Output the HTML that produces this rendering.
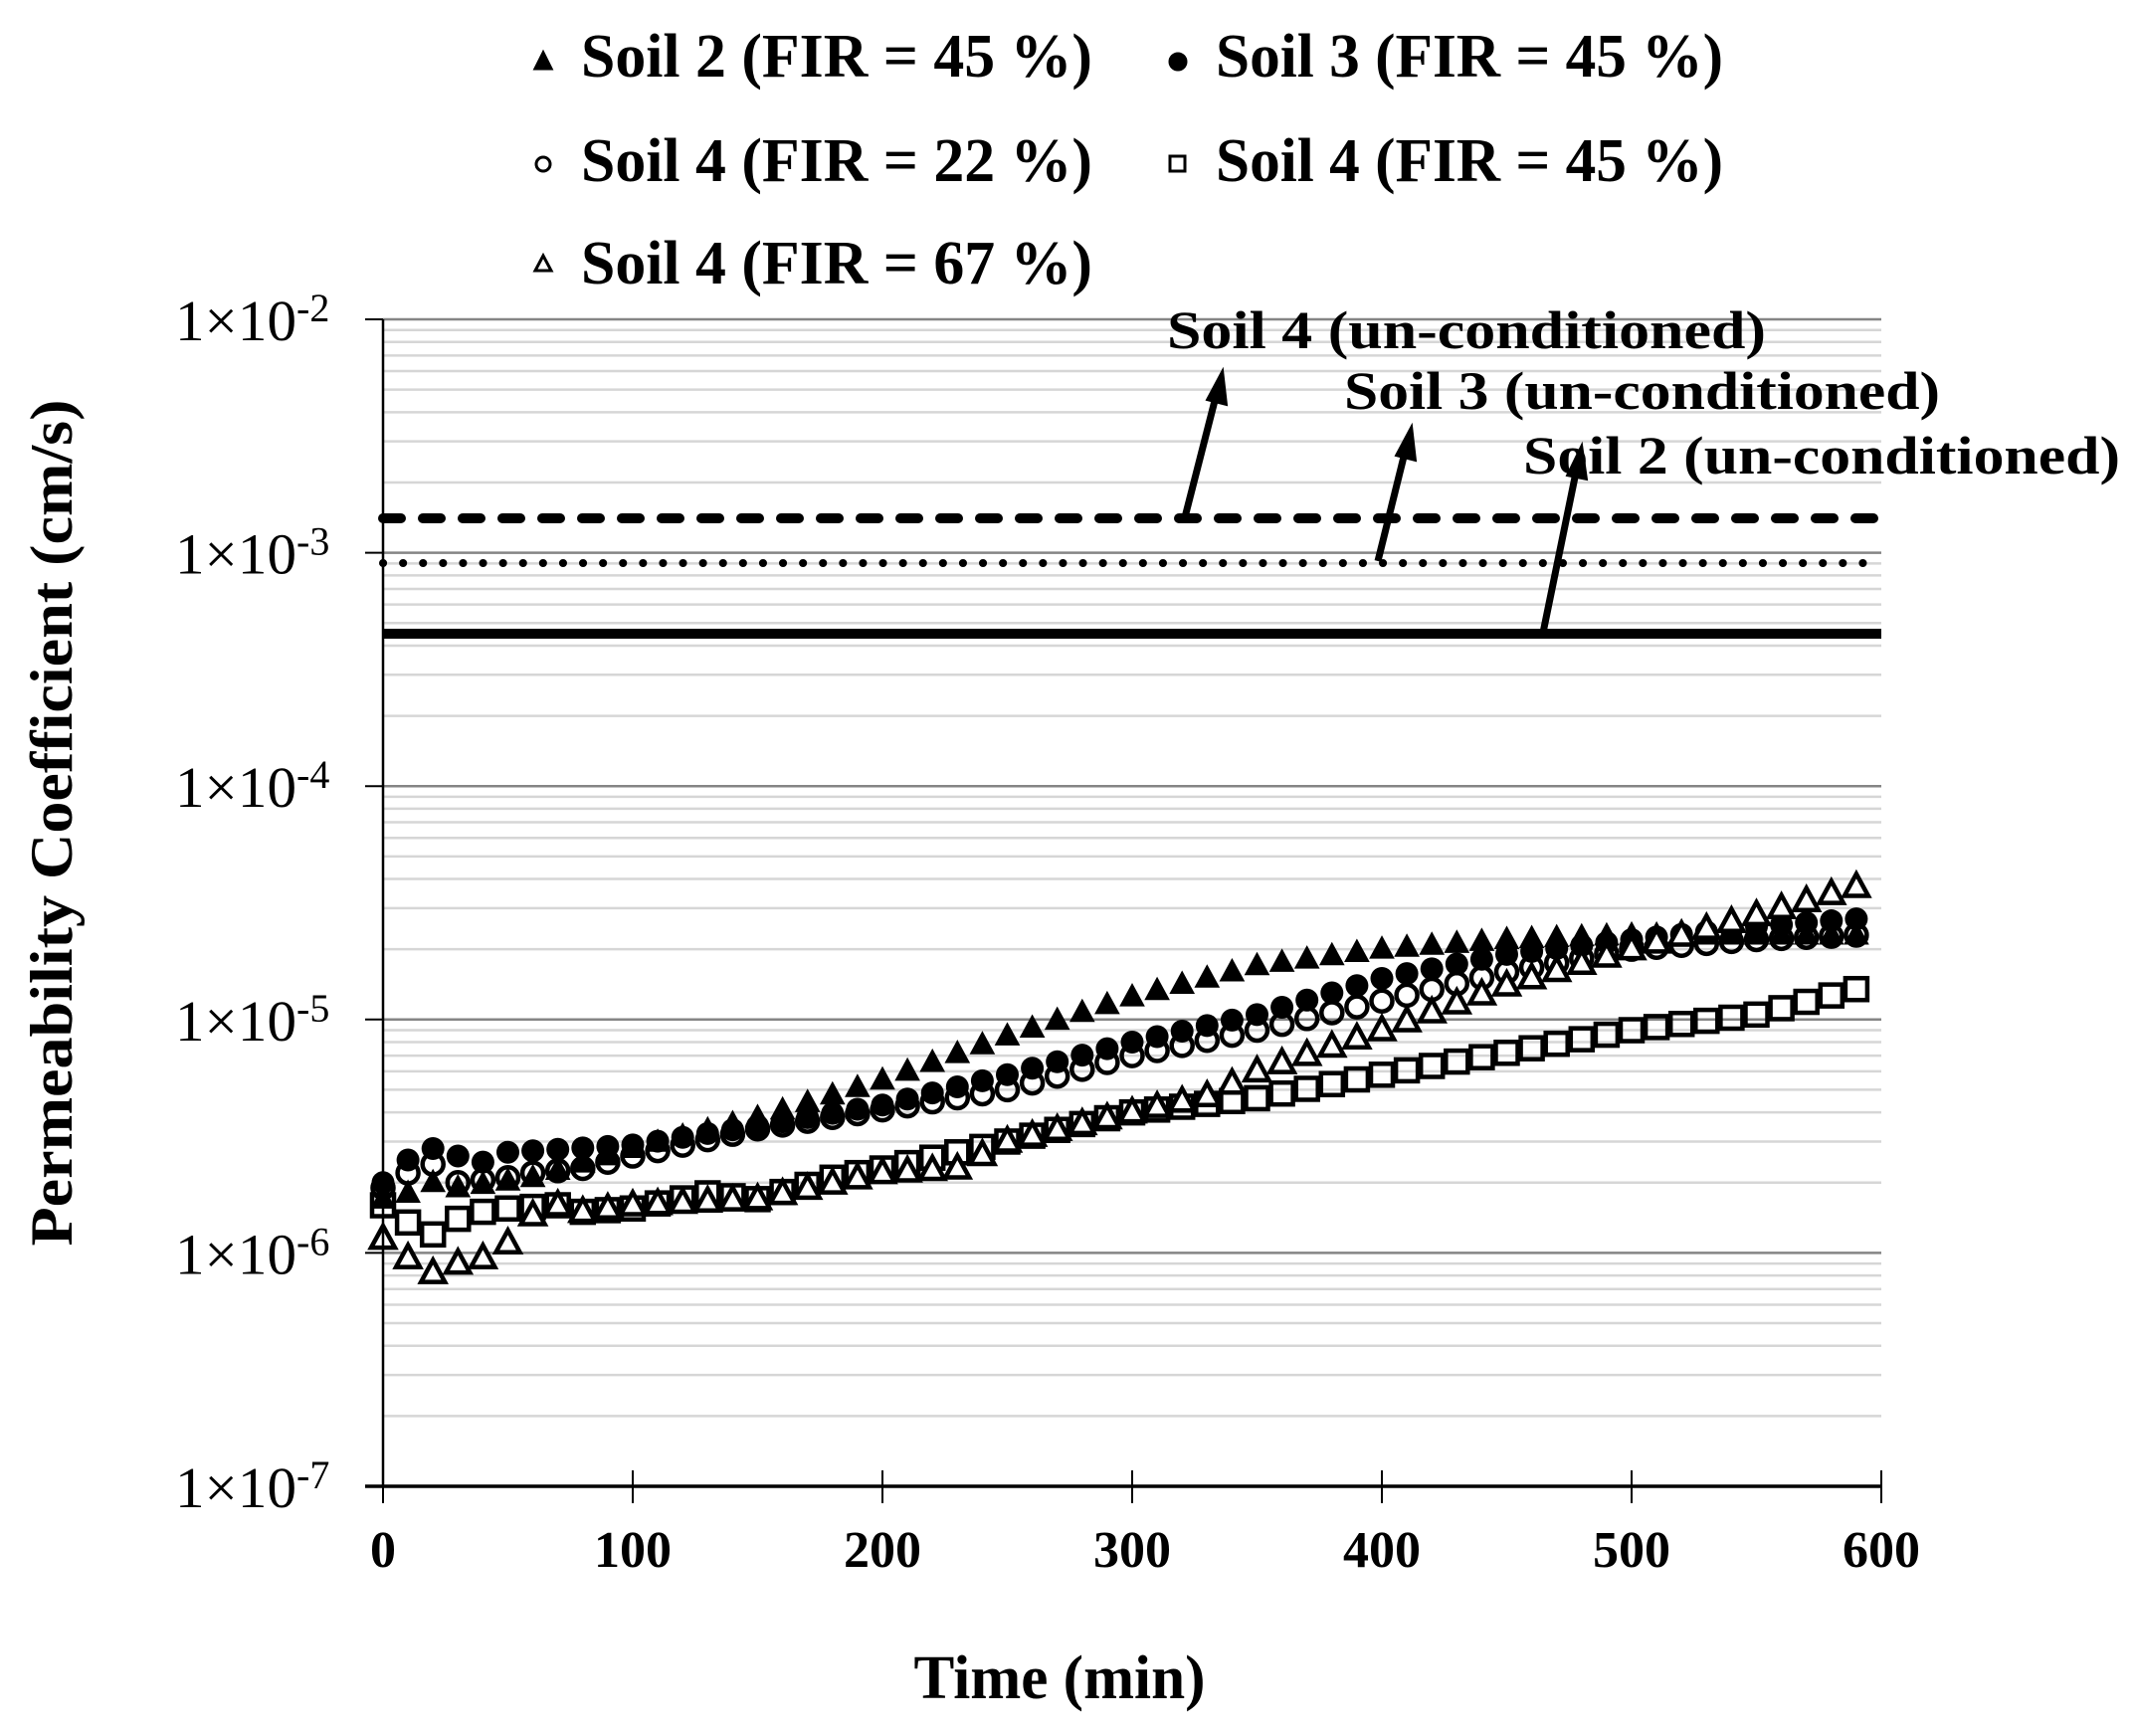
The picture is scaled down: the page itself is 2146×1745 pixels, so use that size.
<!DOCTYPE html>
<html><head><meta charset="utf-8"><style>html,body{margin:0;padding:0;background:#fff}svg{display:block}</style></head>
<body>
<svg id="s" width="2146" height="1745" xmlns="http://www.w3.org/2000/svg" font-family="Liberation Serif, serif">
<g id="grid"></g>
<line x1="385" y1="521" x2="1891" y2="521" stroke="#000" stroke-width="10" stroke-dasharray="18,22" stroke-linecap="round"/>
<line x1="385" y1="566" x2="1891" y2="566" stroke="#000" stroke-width="8" stroke-dasharray="0.1,20" stroke-linecap="round"/>
<line x1="385" y1="637" x2="1891" y2="637" stroke="#000" stroke-width="10"/>
<g id="data"></g>
<line x1="385" y1="321" x2="385" y2="1494" stroke="#000" stroke-width="2.5"/>
<line x1="367" y1="1494" x2="1891" y2="1494" stroke="#000" stroke-width="3.5"/>
<g id="ticks" stroke="#000" stroke-width="2"></g>
<g id="labels"></g>
<g stroke="#000" stroke-width="7" fill="#000">
<line x1="1191" y1="520" x2="1223" y2="395"/>
<polygon points="1229,372 1213,402 1233,407" stroke-width="2"/>
<line x1="1385" y1="564" x2="1413" y2="451"/>
<polygon points="1419,428 1403,458 1423,463" stroke-width="2"/>
<line x1="1551" y1="636" x2="1585" y2="470"/>
<polygon points="1590,447 1575,478 1595,482" stroke-width="2"/>
</g>
<g font-weight="bold" font-size="54">
<text x="1173" y="350" textLength="602" lengthAdjust="spacingAndGlyphs">Soil 4 (un-conditioned)</text>
<text x="1351" y="411" textLength="599" lengthAdjust="spacingAndGlyphs">Soil 3 (un-conditioned)</text>
<text x="1531" y="476" textLength="600" lengthAdjust="spacingAndGlyphs">Soil 2 (un-conditioned)</text>
</g>
<g font-weight="bold" font-size="62">
<text x="584" y="77" textLength="514" lengthAdjust="spacingAndGlyphs">Soil 2 (FIR = 45 %)</text>
<text x="1222" y="77" textLength="510" lengthAdjust="spacingAndGlyphs">Soil 3 (FIR = 45 %)</text>
<text x="584" y="182" textLength="514" lengthAdjust="spacingAndGlyphs">Soil 4 (FIR = 22 %)</text>
<text x="1222" y="182" textLength="510" lengthAdjust="spacingAndGlyphs">Soil 4 (FIR = 45 %)</text>
<text x="584" y="285" textLength="514" lengthAdjust="spacingAndGlyphs">Soil 4 (FIR = 67 %)</text>
</g>
<g stroke="#000" stroke-width="3">
<polygon points="546,53 538,69 554,69" fill="#000"/>
<circle cx="1184" cy="62" r="8" fill="#000"/>
<circle cx="546" cy="165" r="7" fill="none"/>
<rect x="1176" y="157" width="15" height="15" fill="none"/>
<polygon points="546,257 538,272 554,272" fill="none"/>
</g>
<text x="1065" y="1707" font-weight="bold" font-size="62" text-anchor="middle" textLength="293" lengthAdjust="spacingAndGlyphs">Time (min)</text>
<text transform="translate(72,827) rotate(-90)" font-weight="bold" font-size="60" text-anchor="middle" textLength="851" lengthAdjust="spacingAndGlyphs">Permeability Coefficient (cm/s)</text>
</svg>
<script>
const NS="http://www.w3.org/2000/svg";
const X0=385,X1=1891,Y2=321,DEC=234.6;
const xp=t=>X0+(X1-X0)*t/600;
const yp=v=>Y2+(-2-Math.log10(v))*DEC;
function el(p,tag,a){const e=document.createElementNS(NS,tag);for(const k in a)e.setAttribute(k,a[k]);p.appendChild(e);return e;}
const grid=document.getElementById('grid');
for(let d=-7;d<-2;d++){for(let m=2;m<=9;m++){const y=yp(m*Math.pow(10,d));el(grid,'line',{x1:X0,x2:X1,y1:y,y2:y,stroke:'#d6d6d6','stroke-width':2.5});}}
for(let d=-6;d<=-2;d++){const y=yp(Math.pow(10,d));el(grid,'line',{x1:X0,x2:X1,y1:y,y2:y,stroke:'#858585','stroke-width':2.5});}
const ticks=document.getElementById('ticks'),labels=document.getElementById('labels');
for(let d=-7;d<=-2;d++){const y=yp(Math.pow(10,d));el(ticks,'line',{x1:367,x2:385,y1:y,y2:y});
 const t=el(labels,'text',{x:176,y:y+21,'font-size':58,textLength:122,lengthAdjust:'spacingAndGlyphs'});t.textContent='1×10';
 const s=el(labels,'text',{x:298,y:y+2,'font-size':40});s.textContent=String(d);}
for(let i=0;i<=6;i++){const x=xp(i*100);el(ticks,'line',{x1:x,x2:x,y1:1478,y2:1511});
 const t=el(labels,'text',{x:x,y:1575,'font-size':52,'font-weight':'bold','text-anchor':'middle'});t.textContent=String(i*100);}
function interp(pts,t){for(let i=0;i<pts.length-1;i++){const[a,va]=pts[i],[b,vb]=pts[i+1];if(t>=a&&t<=b){const f=(t-a)/(b-a);return Math.pow(10,Math.log10(va)+f*(Math.log10(vb)-Math.log10(va)));}}return pts[pts.length-1][1];}
const S={
 tri:[[0,1.7e-6],[10,1.8e-6],[20,2e-6],[30,1.9e-6],[60,2.1e-6],[100,2.8e-6],[150,3.8e-6],[200,5.5e-6],[250,8.5e-6],[300,1.25e-5],[350,1.7e-5],[400,2e-5],[450,2.2e-5],[500,2.3e-5],[590,2.3e-5]],
 dot:[[0,2e-6],[10,2.5e-6],[20,2.8e-6],[30,2.6e-6],[40,2.45e-6],[50,2.7e-6],[100,2.9e-6],[150,3.5e-6],[200,4.3e-6],[250,5.8e-6],[300,8e-6],[350,1.05e-5],[400,1.5e-5],[450,1.9e-5],[500,2.2e-5],[550,2.5e-5],[590,2.7e-5]],
 circ:[[0,1.9e-6],[10,2.2e-6],[20,2.4e-6],[30,2e-6],[50,2.1e-6],[60,2.2e-6],[80,2.3e-6],[100,2.6e-6],[150,3.4e-6],[200,4.1e-6],[250,5e-6],[300,7e-6],[350,9e-6],[400,1.2e-5],[450,1.6e-5],[500,2e-5],[550,2.2e-5],[590,2.3e-5]],
 sq:[[0,1.6e-6],[10,1.35e-6],[20,1.2e-6],[30,1.4e-6],[40,1.5e-6],[50,1.55e-6],[70,1.6e-6],[80,1.5e-6],[100,1.55e-6],[130,1.8e-6],[150,1.7e-6],[180,2.1e-6],[200,2.3e-6],[250,3e-6],[300,4e-6],[350,4.6e-6],[400,5.8e-6],[450,7.2e-6],[500,9e-6],[550,1.05e-5],[590,1.35e-5]],
 otri:[[0,1.15e-6],[10,0.95e-6],[20,0.82e-6],[30,0.9e-6],[40,0.95e-6],[50,1.1e-6],[60,1.45e-6],[70,1.6e-6],[80,1.5e-6],[100,1.6e-6],[150,1.7e-6],[200,2.2e-6],[230,2.3e-6],[250,3e-6],[300,4e-6],[330,4.7e-6],[350,6e-6],[400,9e-6],[450,1.4e-5],[500,2e-5],[550,2.8e-5],[590,3.7e-5]]};
const data=document.getElementById('data');
function tri(x,y,fill){const h=13;el(data,'polygon',{points:`${x},${y-h} ${x-12},${y+9} ${x+12},${y+9}`,fill:fill?'#000':'#fff',stroke:'#000','stroke-width':fill?1:4.5});}
for(let t=0;t<=590;t+=10){
 let x=xp(t);
 tri(x,yp(interp(S.tri,t)),true);
 el(data,'circle',{cx:x,cy:yp(interp(S.dot,t)),r:11.5,fill:'#000'});
 el(data,'circle',{cx:x,cy:yp(interp(S.circ,t)),r:10.5,fill:'none',stroke:'#000','stroke-width':4.5});
 let y=yp(interp(S.sq,t));el(data,'rect',{x:x-11,y:y-11,width:22,height:22,fill:'none',stroke:'#000','stroke-width':4.5});
 tri(x,yp(interp(S.otri,t)),false);
}
</script>
</body></html>
